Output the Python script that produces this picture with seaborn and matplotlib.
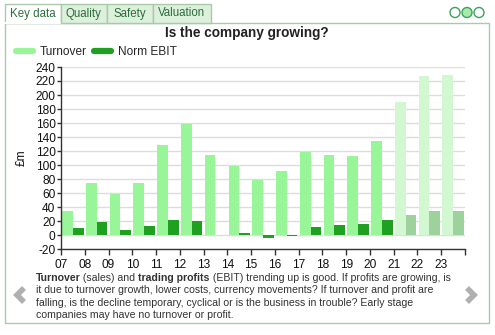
import matplotlib
matplotlib.use("Agg")
import matplotlib.pyplot as plt
import seaborn as sns
import pandas as pd
from matplotlib.patches import Rectangle, Circle
from matplotlib.lines import Line2D

# ---- data ----
years = ["07", "08", "09", "10", "11", "12", "13", "14", "15", "16", "17",
         "18", "19", "20", "21", "22", "23"]
turnover = [35, 74, 58, 74, 129, 158, 115, 98, 78, 92, 118, 115, 113, 134, 190, 227, 228]
norm_ebit = [9.5, 18, 6.5, 13, 22, 20.5, 0, 3, -4.5, -1.5, 11, 14, 16, 21, 28, 35, 34]
forecast_years = ["21", "22", "23"]
series_names = ["Turnover", "Norm EBIT"]
yticks = list(range(-20, 241, 20))

title = "Is the company growing?"
tabs = ["Key data", "Quality", "Safety", "Valuation"]

c_turn = "#98f598"
c_ebit = "#20a020"
c_turn_f = "#d2f8d2"
c_ebit_f = "#9dd29d"

df = pd.DataFrame({
    "year": years * 2,
    "series": [series_names[0]] * len(years) + [series_names[1]] * len(years),
    "value": turnover + norm_ebit,
})

sns.set_style("white")
plt.rcParams["font.family"] = ["Liberation Sans", "DejaVu Sans"]

W, H = 495, 335
fig = plt.figure(figsize=(W / 100, H / 100), dpi=100)

# overlay for decoration, pixel coords (y down)
ov = fig.add_axes([0, 0, 1, 1], zorder=0)
ov.set_xlim(0, W)
ov.set_ylim(H, 0)
ov.set_axis_off()

# panel
ov.add_patch(Rectangle((4.5, 22.5), 484, 300, facecolor="white", edgecolor="#a9c9a9", lw=1))
# tabs
tab_x = [4.5, 60.5, 106.5, 152.5, 210.5]
for i, t in enumerate(tabs):
    x0, x1 = tab_x[i], tab_x[i + 1]
    fc = "white" if i == 0 else "#dcf0dc"
    ov.add_patch(Rectangle((x0, 3.5), x1 - x0, 19.5 if i == 0 else 19, facecolor=fc,
                           edgecolor="#a9c9a9", lw=1, zorder=2))
    ov.text((x0 + x1) / 2, 13.5, t, ha="center", va="center", fontsize=8.3,
            color="#2c6e3c", zorder=3)
ov.plot([5, 60], [23, 23], color="white", lw=1.5, zorder=4)
# circles
for i, cx in enumerate([455, 467, 479]):
    ov.add_patch(Circle((cx, 12.5), 5, facecolor="#a8eaa8" if i == 1 else "white",
                        edgecolor="#3aa35a", lw=1, zorder=3))
# title
ov.text(247, 33.5, title, ha="center", va="center", fontsize=9.8, fontweight="bold", color="#222222")

# arrows
ov.plot([24, 17, 24], [288, 295, 302], color="#b0b0b0", lw=4, solid_capstyle="butt",
        solid_joinstyle="miter")
ov.plot([467, 474, 467], [288, 295, 302], color="#b0b0b0", lw=4, solid_capstyle="butt",
        solid_joinstyle="miter")

# body text with bold pieces
lines = [
    [("Turnover", True), (" (sales) and ", False), ("trading profits", True),
     (" (EBIT) trending up is good. If profits are growing, is", False)],
    [("it due to turnover growth, lower costs, currency movements? If turnover and profit are", False)],
    [("falling, is the decline temporary, cyclical or is the business in trouble? Early stage", False)],
    [("companies may have no turnover or profit.", False)],
]
renderer = fig.canvas.get_renderer()
y0 = 278
for li, parts in enumerate(lines):
    x = 35.5
    for txt, bold in parts:
        t = ov.text(x, y0 + li * 12.3, txt, ha="left", va="center", fontsize=7.6,
                    fontweight="bold" if bold else "normal", color="#333333")
        bb = t.get_window_extent(renderer=renderer)
        x += bb.width

# main chart
ax = fig.add_axes([61 / W, 1 - 249 / H, 404 / W, 182 / H], zorder=1)
ax.set_facecolor("none")
sns.barplot(data=df, x="year", y="value", hue="series", order=years,
            hue_order=series_names, palette=[c_turn, c_ebit], width=0.9,
            saturation=1, ax=ax, legend=False)
for ci, cont in enumerate(ax.containers):
    for yi, p in enumerate(cont.patches):
        p.set_edgecolor("none")
        if years[yi] in forecast_years:
            p.set_facecolor(c_turn_f if ci == 0 else c_ebit_f)

ax.set_xlim(-0.5, len(years) - 0.5)
ax.set_ylim(-20, 240)
ax.set_yticks(yticks)
ax.set_yticklabels([str(v) for v in yticks])
ax.set_xticks([i - 0.5 for i in range(len(years) + 1)])
ax.set_xticklabels(years + [""])
ax.yaxis.grid(True, color="#dddddd", lw=1)
ax.set_axisbelow(True)
for s in ["top", "right"]:
    ax.spines[s].set_visible(False)
for s in ["left", "bottom"]:
    ax.spines[s].set_color("#333333")
    ax.spines[s].set_linewidth(1)
ax.tick_params(axis="y", length=3, width=1, color="#333333", labelsize=8.6, pad=1,
               labelcolor="#111111", left=True)
ax.tick_params(axis="x", length=4, width=1, color="#333333", labelsize=8.6, pad=3,
               labelcolor="#111111", bottom=True)
ax.set_xlabel("")
ax.set_ylabel("£m", fontsize=8.6, color="#111111", labelpad=6)

# legend
handles = [Line2D([], [], color=c_turn, lw=4.5), Line2D([], [], color=c_ebit, lw=4.5)]
fig.legend(handles, series_names, loc="center left", bbox_to_anchor=(16 / W, 1 - 52 / H),
           ncol=2, frameon=False, fontsize=8.6, handlelength=1.45, handletextpad=0.55,
           columnspacing=0.6, borderaxespad=0, borderpad=0)

fig.savefig("out.png", dpi=100)
